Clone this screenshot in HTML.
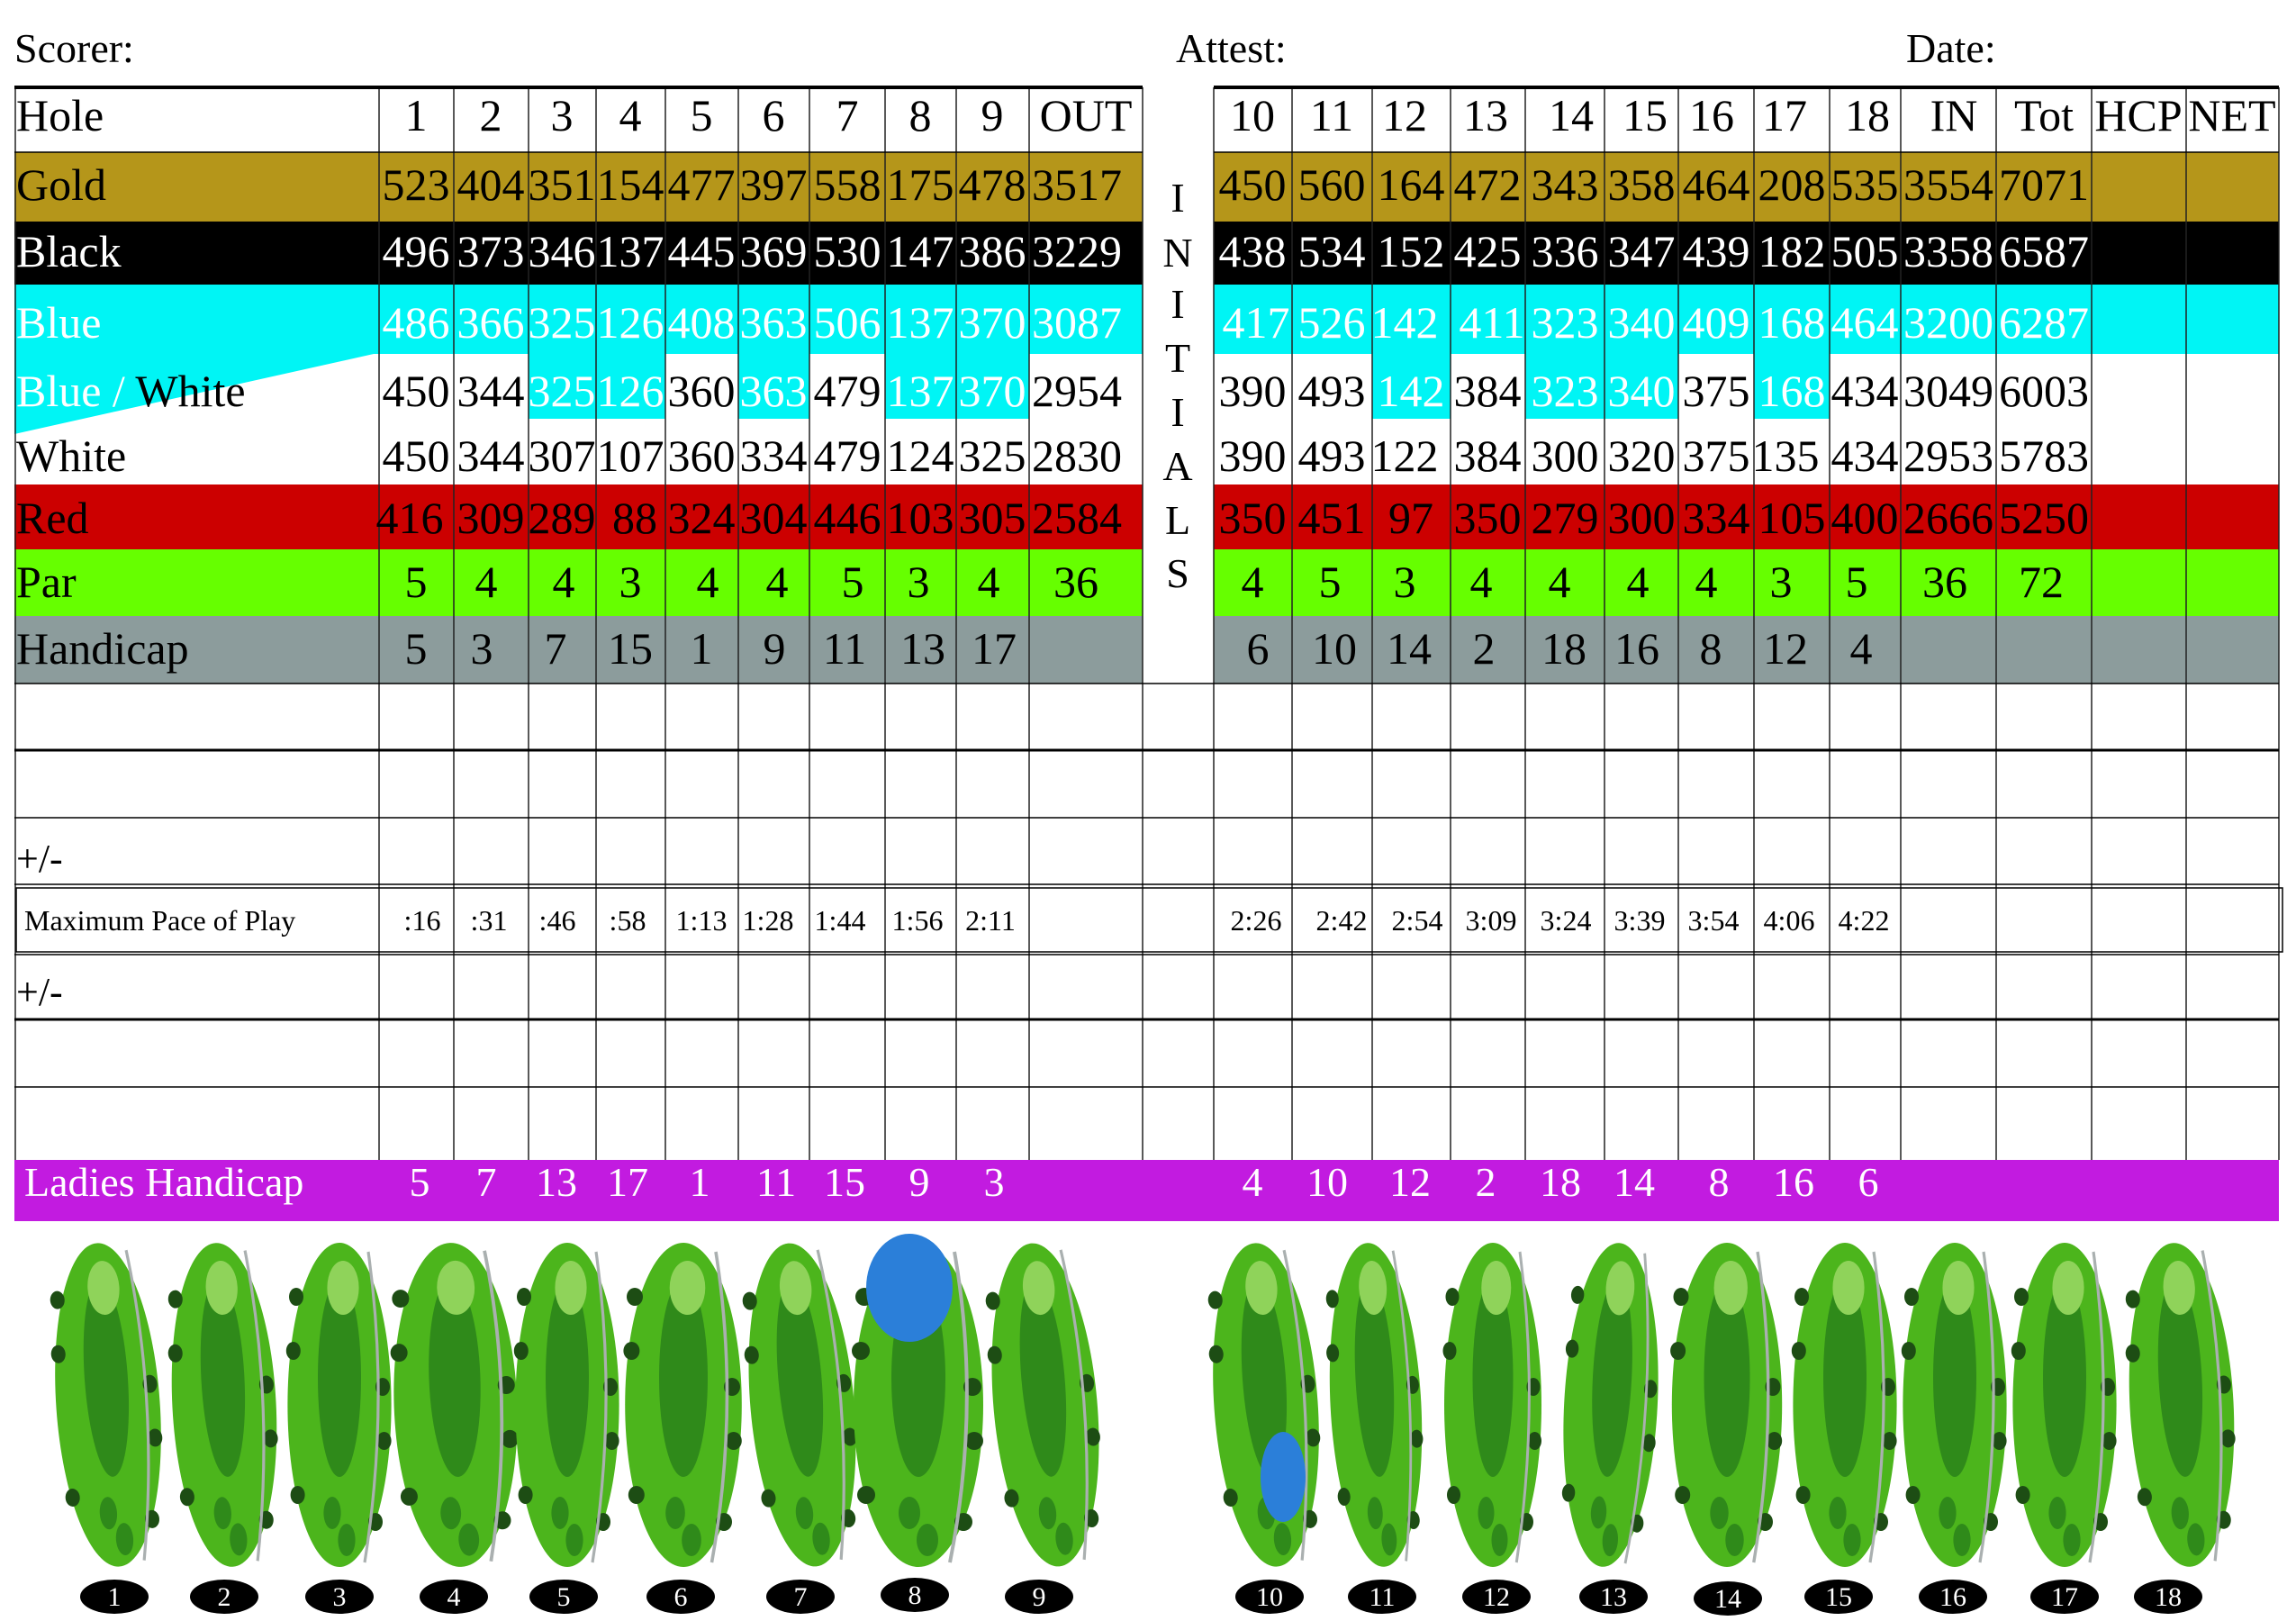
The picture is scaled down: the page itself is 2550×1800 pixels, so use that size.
<!DOCTYPE html>
<html><head><meta charset="utf-8"><style>
html,body{margin:0;padding:0;background:#fff;}
svg{display:block;}
text{font-family:"Liberation Serif",serif;}
</style></head><body>
<svg width="2550" height="1800" viewBox="0 0 2550 1800" xmlns="http://www.w3.org/2000/svg">
<g font-size="46" fill="#000">
<text x="16" y="69">Scorer:</text>
<text x="1306" y="69">Attest:</text>
<text x="2117" y="69">Date:</text>
</g>
<rect x="16" y="169" width="1253" height="77" fill="#b5961a"/>
<rect x="16" y="246" width="1253" height="70" fill="#000"/>
<rect x="16" y="316" width="1253" height="77" fill="#00f5f5"/>
<polygon points="16,393 415,393 16,482" fill="#00f5f5"/>
<rect x="16" y="538" width="1253" height="72" fill="#cc0000"/>
<rect x="16" y="610" width="1253" height="74" fill="#66ff00"/>
<rect x="16" y="684" width="1253" height="75" fill="#8c9c9c"/>
<rect x="1348" y="169" width="1183" height="77" fill="#b5961a"/>
<rect x="1348" y="246" width="1183" height="70" fill="#000"/>
<rect x="1348" y="316" width="1183" height="77" fill="#00f5f5"/>
<rect x="1348" y="538" width="1183" height="72" fill="#cc0000"/>
<rect x="1348" y="610" width="1183" height="74" fill="#66ff00"/>
<rect x="1348" y="684" width="1183" height="75" fill="#8c9c9c"/>
<g fill="#00f5f5">
<rect x="587" y="393" width="152" height="72"/>
<rect x="820" y="393" width="79" height="72"/>
<rect x="983" y="393" width="160" height="72"/>
<rect x="1524" y="393" width="87" height="72"/>
<rect x="1694" y="393" width="170" height="72"/>
<rect x="1948" y="393" width="84" height="72"/>
</g>
<rect x="16" y="1288" width="2515" height="68" fill="#c21be0"/>
<g stroke="#222" stroke-width="1.5">
<line x1="17" y1="97" x2="17" y2="1288"/>
<line x1="421" y1="97" x2="421" y2="1288"/>
<line x1="504" y1="97" x2="504" y2="1288"/>
<line x1="587" y1="97" x2="587" y2="1288"/>
<line x1="662" y1="97" x2="662" y2="1288"/>
<line x1="739" y1="97" x2="739" y2="1288"/>
<line x1="820" y1="97" x2="820" y2="1288"/>
<line x1="899" y1="97" x2="899" y2="1288"/>
<line x1="983" y1="97" x2="983" y2="1288"/>
<line x1="1062" y1="97" x2="1062" y2="1288"/>
<line x1="1143" y1="97" x2="1143" y2="1288"/>
<line x1="1269" y1="97" x2="1269" y2="1288"/>
<line x1="1348" y1="97" x2="1348" y2="1288"/>
<line x1="1435" y1="97" x2="1435" y2="1288"/>
<line x1="1524" y1="97" x2="1524" y2="1288"/>
<line x1="1611" y1="97" x2="1611" y2="1288"/>
<line x1="1694" y1="97" x2="1694" y2="1288"/>
<line x1="1782" y1="97" x2="1782" y2="1288"/>
<line x1="1864" y1="97" x2="1864" y2="1288"/>
<line x1="1948" y1="97" x2="1948" y2="1288"/>
<line x1="2032" y1="97" x2="2032" y2="1288"/>
<line x1="2111" y1="97" x2="2111" y2="1288"/>
<line x1="2217" y1="97" x2="2217" y2="1288"/>
<line x1="2323" y1="97" x2="2323" y2="1288"/>
<line x1="2428" y1="97" x2="2428" y2="1288"/>
<line x1="2531" y1="97" x2="2531" y2="1288"/>
</g>
<rect x="1271" y="99" width="76" height="659" fill="#fff"/>
<g stroke="#000">
<line x1="16" y1="97" x2="1269" y2="97" stroke-width="4"/>
<line x1="1348" y1="97" x2="2531" y2="97" stroke-width="4"/>
<line x1="16" y1="169" x2="1269" y2="169" stroke-width="1.5"/>
<line x1="1348" y1="169" x2="2531" y2="169" stroke-width="1.5"/>
<line x1="16" y1="759" x2="2531" y2="759" stroke-width="1.5"/>
<line x1="16" y1="833" x2="2531" y2="833" stroke-width="3"/>
<line x1="16" y1="908" x2="2531" y2="908" stroke-width="1.5"/>
<line x1="16" y1="982" x2="2531" y2="982" stroke-width="1.5"/>
<line x1="16" y1="1060" x2="2531" y2="1060" stroke-width="1.5"/>
<line x1="16" y1="1132" x2="2531" y2="1132" stroke-width="3"/>
<line x1="16" y1="1207" x2="2531" y2="1207" stroke-width="1.5"/>
</g>
<rect x="18" y="986" width="2517" height="71" fill="none" stroke="#000" stroke-width="1.5"/>

<g font-size="50">
<text x="18" y="145" fill="#000">Hole</text>
<text x="18" y="222" fill="#000">Gold</text>
<text x="18" y="296" fill="#fff">Black</text>
<text x="18" y="375" fill="#fff">Blue</text>
<text x="18" y="451"><tspan fill="#fff">Blue /</tspan><tspan fill="#000"> White</tspan></text>
<text x="18" y="523" fill="#000">White</text>
<text x="18" y="592" fill="#000">Red</text>
<text x="18" y="663" fill="#000">Par</text>
<text x="18" y="737" fill="#000">Handicap</text>
</g>

<g font-size="46" text-anchor="middle" fill="#000">
<text x="1308" y="235">I</text>
<text x="1308" y="296">N</text>
<text x="1308" y="353">I</text>
<text x="1308" y="413">T</text>
<text x="1308" y="473">I</text>
<text x="1308" y="533">A</text>
<text x="1308" y="593">L</text>
<text x="1308" y="652">S</text>
</g>

<g font-size="50" text-anchor="middle">
<g fill="#000"><text x="462" y="145">1</text><text x="545" y="145">2</text><text x="624" y="145">3</text><text x="700" y="145">4</text><text x="779" y="145">5</text><text x="859" y="145">6</text><text x="941" y="145">7</text><text x="1022" y="145">8</text><text x="1102" y="145">9</text><text x="1206" y="145">OUT</text></g>
<g fill="#000"><text x="462" y="222">523</text><text x="545" y="222">404</text><text x="624" y="222">351</text><text x="700" y="222">154</text><text x="779" y="222">477</text><text x="859" y="222">397</text><text x="941" y="222">558</text><text x="1022" y="222">175</text><text x="1102" y="222">478</text><text x="1196" y="222">3517</text></g>
<g fill="#fff"><text x="462" y="296">496</text><text x="545" y="296">373</text><text x="624" y="296">346</text><text x="700" y="296">137</text><text x="779" y="296">445</text><text x="859" y="296">369</text><text x="941" y="296">530</text><text x="1022" y="296">147</text><text x="1102" y="296">386</text><text x="1196" y="296">3229</text></g>
<g fill="#fff"><text x="462" y="375">486</text><text x="545" y="375">366</text><text x="624" y="375">325</text><text x="700" y="375">126</text><text x="779" y="375">408</text><text x="859" y="375">363</text><text x="941" y="375">506</text><text x="1022" y="375">137</text><text x="1102" y="375">370</text><text x="1196" y="375">3087</text></g>
<g><text x="462" y="451" fill="#000">450</text><text x="545" y="451" fill="#000">344</text><text x="624" y="451" fill="#fff">325</text><text x="700" y="451" fill="#fff">126</text><text x="779" y="451" fill="#000">360</text><text x="859" y="451" fill="#fff">363</text><text x="941" y="451" fill="#000">479</text><text x="1022" y="451" fill="#fff">137</text><text x="1102" y="451" fill="#fff">370</text><text x="1196" y="451" fill="#000">2954</text></g>
<g fill="#000"><text x="462" y="523">450</text><text x="545" y="523">344</text><text x="624" y="523">307</text><text x="700" y="523">107</text><text x="779" y="523">360</text><text x="859" y="523">334</text><text x="941" y="523">479</text><text x="1022" y="523">124</text><text x="1102" y="523">325</text><text x="1196" y="523">2830</text></g>
<g fill="#000"><text x="455" y="592">416</text><text x="545" y="592">309</text><text x="624" y="592">289</text><text x="705" y="592">88</text><text x="779" y="592">324</text><text x="859" y="592">304</text><text x="941" y="592">446</text><text x="1022" y="592">103</text><text x="1102" y="592">305</text><text x="1196" y="592">2584</text></g>
<g fill="#000"><text x="462" y="663">5</text><text x="540" y="663">4</text><text x="626" y="663">4</text><text x="700" y="663">3</text><text x="786" y="663">4</text><text x="863" y="663">4</text><text x="947" y="663">5</text><text x="1020" y="663">3</text><text x="1098" y="663">4</text><text x="1195" y="663">36</text></g>
<g fill="#000"><text x="462" y="737">5</text><text x="535" y="737">3</text><text x="617" y="737">7</text><text x="700" y="737">15</text><text x="779" y="737">1</text><text x="860" y="737">9</text><text x="938" y="737">11</text><text x="1025" y="737">13</text><text x="1104" y="737">17</text></g>
</g>

<g font-size="50" text-anchor="middle">
<g fill="#000"><text x="1391" y="145">10</text><text x="1479" y="145">11</text><text x="1560" y="145">12</text><text x="1650" y="145">13</text><text x="1745" y="145">14</text><text x="1827" y="145">15</text><text x="1901" y="145">16</text><text x="1982" y="145">17</text><text x="2074" y="145">18</text><text x="2170" y="145">IN</text><text x="2270" y="145">Tot</text><text x="2375" y="145">HCP</text><text x="2479" y="145">NET</text></g>
<g fill="#000"><text x="1391" y="222">450</text><text x="1479" y="222">560</text><text x="1567" y="222">164</text><text x="1652" y="222">472</text><text x="1738" y="222">343</text><text x="1823" y="222">358</text><text x="1906" y="222">464</text><text x="1990" y="222">208</text><text x="2071" y="222">535</text><text x="2164" y="222">3554</text><text x="2270" y="222">7071</text></g>
<g fill="#fff"><text x="1391" y="296">438</text><text x="1479" y="296">534</text><text x="1567" y="296">152</text><text x="1652" y="296">425</text><text x="1738" y="296">336</text><text x="1823" y="296">347</text><text x="1906" y="296">439</text><text x="1990" y="296">182</text><text x="2071" y="296">505</text><text x="2164" y="296">3358</text><text x="2270" y="296">6587</text></g>
<g fill="#fff"><text x="1395" y="375">417</text><text x="1479" y="375">526</text><text x="1560" y="375">142</text><text x="1657" y="375">411</text><text x="1738" y="375">323</text><text x="1823" y="375">340</text><text x="1906" y="375">409</text><text x="1990" y="375">168</text><text x="2071" y="375">464</text><text x="2164" y="375">3200</text><text x="2270" y="375">6287</text></g>
<g><text x="1391" y="451" fill="#000">390</text><text x="1479" y="451" fill="#000">493</text><text x="1567" y="451" fill="#fff">142</text><text x="1652" y="451" fill="#000">384</text><text x="1738" y="451" fill="#fff">323</text><text x="1823" y="451" fill="#fff">340</text><text x="1906" y="451" fill="#000">375</text><text x="1990" y="451" fill="#fff">168</text><text x="2071" y="451" fill="#000">434</text><text x="2164" y="451" fill="#000">3049</text><text x="2270" y="451" fill="#000">6003</text></g>
<g fill="#000"><text x="1391" y="523">390</text><text x="1479" y="523">493</text><text x="1560" y="523">122</text><text x="1652" y="523">384</text><text x="1738" y="523">300</text><text x="1823" y="523">320</text><text x="1906" y="523">375</text><text x="1983" y="523">135</text><text x="2071" y="523">434</text><text x="2164" y="523">2953</text><text x="2270" y="523">5783</text></g>
<g fill="#000"><text x="1391" y="592">350</text><text x="1479" y="592">451</text><text x="1567" y="592">97</text><text x="1652" y="592">350</text><text x="1738" y="592">279</text><text x="1823" y="592">300</text><text x="1906" y="592">334</text><text x="1990" y="592">105</text><text x="2071" y="592">400</text><text x="2164" y="592">2666</text><text x="2270" y="592">5250</text></g>
<g fill="#000"><text x="1391" y="663">4</text><text x="1477" y="663">5</text><text x="1560" y="663">3</text><text x="1645" y="663">4</text><text x="1732" y="663">4</text><text x="1819" y="663">4</text><text x="1895" y="663">4</text><text x="1978" y="663">3</text><text x="2062" y="663">5</text><text x="2160" y="663">36</text><text x="2267" y="663">72</text></g>
<g fill="#000"><text x="1397" y="737">6</text><text x="1482" y="737">10</text><text x="1565" y="737">14</text><text x="1648" y="737">2</text><text x="1737" y="737">18</text><text x="1818" y="737">16</text><text x="1900" y="737">8</text><text x="1983" y="737">12</text><text x="2067" y="737">4</text></g>
</g>

<g font-size="44" fill="#000">
<text x="18" y="968">+/-</text>
<text x="18" y="1116">+/-</text>
</g>

<g font-size="32" fill="#000">
<text x="27" y="1033">Maximum Pace of Play</text>
<g text-anchor="middle">
<text x="469" y="1033">:16</text><text x="543" y="1033">:31</text><text x="619" y="1033">:46</text><text x="697" y="1033">:58</text><text x="779" y="1033">1:13</text><text x="853" y="1033">1:28</text><text x="933" y="1033">1:44</text><text x="1019" y="1033">1:56</text><text x="1100" y="1033">2:11</text>
<text x="1395" y="1033">2:26</text><text x="1490" y="1033">2:42</text><text x="1574" y="1033">2:54</text><text x="1656" y="1033">3:09</text><text x="1739" y="1033">3:24</text><text x="1821" y="1033">3:39</text><text x="1903" y="1033">3:54</text><text x="1987" y="1033">4:06</text><text x="2070" y="1033">4:22</text>
</g>
</g>

<g font-size="46" fill="#fff">
<text x="27" y="1328">Ladies Handicap</text>
<g text-anchor="middle">
<text x="466" y="1328">5</text><text x="540" y="1328">7</text><text x="618" y="1328">13</text><text x="697" y="1328">17</text><text x="777" y="1328">1</text><text x="862" y="1328">11</text><text x="938" y="1328">15</text><text x="1021" y="1328">9</text><text x="1104" y="1328">3</text>
<text x="1391" y="1328">4</text><text x="1474" y="1328">10</text><text x="1566" y="1328">12</text><text x="1650" y="1328">2</text><text x="1733" y="1328">18</text><text x="1815" y="1328">14</text><text x="1909" y="1328">8</text><text x="1992" y="1328">16</text><text x="2075" y="1328">6</text>
</g>
</g>

<defs>
<g id="hole">
<ellipse cx="0" cy="0" rx="72" ry="180" fill="#4cb51c"/>
<ellipse cx="0" cy="-30" rx="30" ry="110" fill="#2f8a1a"/>
<ellipse cx="5" cy="-130" rx="22" ry="30" fill="#8fd35a"/>
<circle cx="-60" cy="-120" r="10" fill="#1d4d14"/>
<circle cx="-64" cy="-60" r="10" fill="#1d4d14"/>
<circle cx="60" cy="-20" r="10" fill="#1d4d14"/>
<circle cx="62" cy="40" r="10" fill="#1d4d14"/>
<circle cx="-58" cy="100" r="10" fill="#1d4d14"/>
<circle cx="50" cy="130" r="10" fill="#1d4d14"/>
<ellipse cx="-10" cy="120" rx="12" ry="18" fill="#2f8a1a"/>
<ellipse cx="10" cy="150" rx="12" ry="18" fill="#2f8a1a"/>
<path d="M40,-170 Q70,0 35,175" stroke="#aab0b0" stroke-width="4" fill="none"/>
</g>
</defs>
<g>
<use href="#hole" transform="translate(120,1560) rotate(-4) scale(0.8,1)"/>
<use href="#hole" transform="translate(249,1560) rotate(-3) scale(0.8,1)"/>
<use href="#hole" transform="translate(377,1560) scale(0.8,1)"/>
<use href="#hole" transform="translate(506,1560) rotate(-2) scale(0.95,1)"/>
<use href="#hole" transform="translate(630,1560) scale(0.8,1)"/>
<use href="#hole" transform="translate(759,1560) scale(0.9,1)"/>
<use href="#hole" transform="translate(891,1560) rotate(-5) scale(0.8,1)"/>
<use href="#hole" transform="translate(1020,1560) scale(1,1)"/>
<use href="#hole" transform="translate(1161,1560) rotate(-5) scale(0.8,1)"/>
<ellipse cx="1010" cy="1430" rx="48" ry="60" fill="#2b7fd9"/>
<use href="#hole" transform="translate(1406,1560) rotate(-4) scale(0.8,1)"/>
<use href="#hole" transform="translate(1528,1560) rotate(-3) scale(0.7,1)"/>
<use href="#hole" transform="translate(1658,1560) scale(0.75,1)"/>
<use href="#hole" transform="translate(1789,1560) rotate(3) scale(0.72,1)"/>
<use href="#hole" transform="translate(1918,1560) scale(0.85,1)"/>
<use href="#hole" transform="translate(2049,1560) scale(0.8,1)"/>
<use href="#hole" transform="translate(2171,1560) scale(0.8,1)"/>
<use href="#hole" transform="translate(2293,1560) scale(0.8,1)"/>
<use href="#hole" transform="translate(2423,1560) rotate(-3) scale(0.8,1)"/>
<ellipse cx="1425" cy="1640" rx="25" ry="50" fill="#2b7fd9"/>
</g>
<g fill="#000">
<ellipse cx="127" cy="1773" rx="38" ry="19"/><ellipse cx="249" cy="1773" rx="38" ry="19"/><ellipse cx="377" cy="1773" rx="38" ry="19"/><ellipse cx="504" cy="1773" rx="38" ry="19"/><ellipse cx="626" cy="1773" rx="38" ry="19"/><ellipse cx="756" cy="1773" rx="38" ry="19"/><ellipse cx="889" cy="1773" rx="38" ry="19"/><ellipse cx="1016" cy="1771" rx="38" ry="19"/><ellipse cx="1154" cy="1773" rx="38" ry="19"/>
<ellipse cx="1410" cy="1773" rx="38" ry="19"/><ellipse cx="1535" cy="1773" rx="38" ry="19"/><ellipse cx="1662" cy="1773" rx="38" ry="19"/><ellipse cx="1792" cy="1773" rx="38" ry="19"/><ellipse cx="1919" cy="1775" rx="38" ry="19"/><ellipse cx="2042" cy="1773" rx="38" ry="19"/><ellipse cx="2169" cy="1773" rx="38" ry="19"/><ellipse cx="2293" cy="1773" rx="38" ry="19"/><ellipse cx="2408" cy="1773" rx="38" ry="19"/>
</g>
<g fill="#fff" font-size="30" text-anchor="middle">
<text x="127" y="1783">1</text><text x="249" y="1783">2</text><text x="377" y="1783">3</text><text x="504" y="1783">4</text><text x="626" y="1783">5</text><text x="756" y="1783">6</text><text x="889" y="1783">7</text><text x="1016" y="1781">8</text><text x="1154" y="1783">9</text>
<text x="1410" y="1783">10</text><text x="1535" y="1783">11</text><text x="1662" y="1783">12</text><text x="1792" y="1783">13</text><text x="1919" y="1785">14</text><text x="2042" y="1783">15</text><text x="2169" y="1783">16</text><text x="2293" y="1783">17</text><text x="2408" y="1783">18</text>
</g>
</svg>
</body></html>
